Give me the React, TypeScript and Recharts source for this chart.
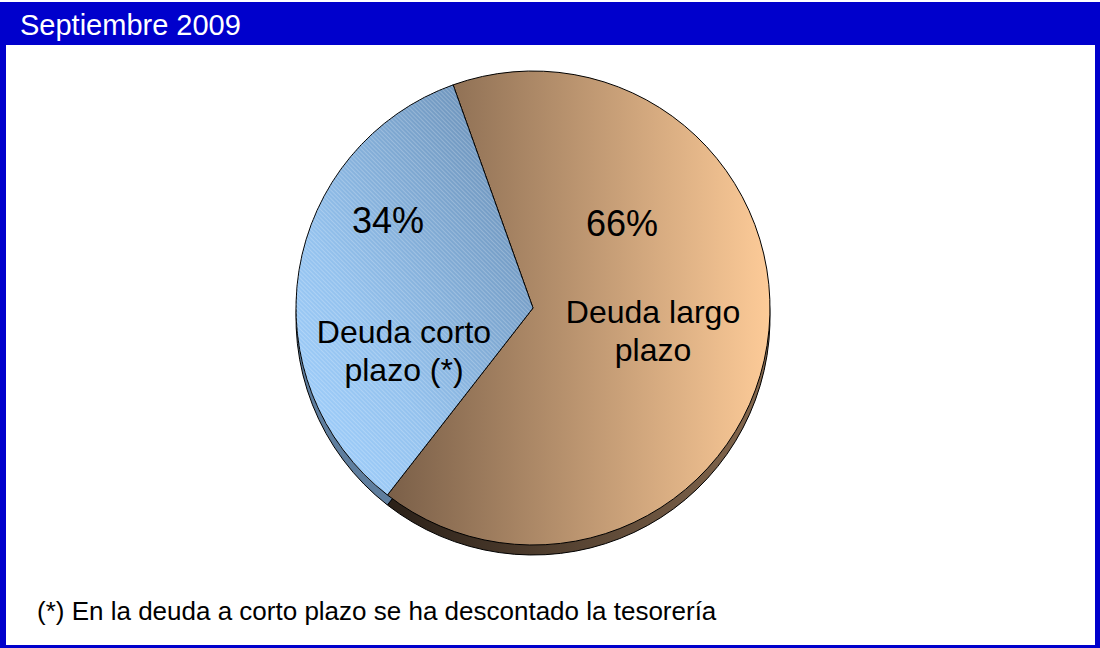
import React from "react";
import { PieChart, Pie, Cell } from "recharts";

// data
const categories = ["Deuda largo plazo", "Deuda corto plazo (*)"];
const shares = [66, 34];
const nameLines = [["Deuda largo", "plazo"], ["Deuda corto", "plazo (*)"]];

const title = "Septiembre 2009";
const footnote = "(*) En la deuda a corto plazo se ha descontado la tesorería";

const data = categories.map((name, i) => ({ name, value: shares[i] }));

// layout
const W = 1100;
const H = 648;
const CX = 533;
const CY = 308;
const R = 237;
const DEPTH = 10;
const START = 109.7;
const FONT = '"Liberation Sans", Arial, sans-serif';

const topFills = ["url(#largoFace)", "url(#cortoFace)"];
const sideFills = ["url(#largoSide)", "#5f7e9e"];
const stripeFills = ["none", "url(#stripes)"];

// label offsets from the pie centre (percent baseline, name first baseline)
const labelPos = [
  { pct: [89, -72], name: [120, 15] },
  { pct: [-145, -75], name: [-129, 35] },
];

function renderLabel(props: any) {
  const { cx, cy, percent, index } = props;
  const pos = labelPos[index];
  const lines = nameLines[index];
  return (
    <g key={`lbl-${index}`}>
      <text x={cx + pos.pct[0]} y={cy + pos.pct[1]} textAnchor="middle"
        fontSize={36} fontFamily={FONT} fill="#000">
        {`${Math.round(percent * 100)}%`}
      </text>
      {lines.map((l, j) => (
        <text key={j} x={cx + pos.name[0]} y={cy + pos.name[1] + j * 38} textAnchor="middle"
          fontSize={32} fontFamily={FONT} fill="#000">
          {l}
        </text>
      ))}
    </g>
  );
}

export default function App() {
  return (
    <div style={{ position: "absolute", left: 0, top: 0, width: W, height: H, background: "#fff", fontFamily: FONT }}>
      <div style={{ position: "absolute", left: 0, top: 2, width: 1100, height: 646, background: "#0000cc" }} />
      <div style={{ position: "absolute", left: 6, top: 45, width: 1089, height: 600, background: "#fff" }} />
      <div style={{ position: "absolute", left: 20, top: 11, fontSize: 29, lineHeight: 1, color: "#fff", whiteSpace: "nowrap" }}>
        {title}
      </div>
      <div style={{ position: "absolute", left: 37, top: 598, fontSize: 26, lineHeight: 1, color: "#000", whiteSpace: "nowrap" }}>
        {footnote}
      </div>

      <div style={{ position: "absolute", left: 0, top: 0 }}>
        <PieChart width={W} height={H} margin={{ top: 0, right: 0, bottom: 0, left: 0 }}>
          <defs>
            <linearGradient id="largoFace" x1="0" y1="0" x2="1" y2="0">
              <stop offset="0%" stopColor="#7a5f48" />
              <stop offset="100%" stopColor="#fdcb98" />
            </linearGradient>
            <linearGradient id="largoSide" x1="0" y1="0" x2="1" y2="0">
              <stop offset="0%" stopColor="#2a2018" />
              <stop offset="100%" stopColor="#86694f" />
            </linearGradient>
            <linearGradient id="cortoFace" x1="0" y1="1" x2="1" y2="0">
              <stop offset="0%" stopColor="#a3d2ff" />
              <stop offset="35%" stopColor="#94c2ee" />
              <stop offset="100%" stopColor="#6488ae" />
            </linearGradient>
            <pattern id="stripes" patternUnits="userSpaceOnUse" width="3" height="3" patternTransform="rotate(-45)">
              <line x1="0.5" y1="0" x2="0.5" y2="3" stroke="#ffffff" strokeOpacity={0.22} strokeWidth={1} />
            </pattern>
          </defs>

          <Pie data={data} dataKey="value" nameKey="name" cx={CX} cy={CY + DEPTH} outerRadius={R}
            startAngle={START} endAngle={START - 360} label={false} labelLine={false}
            isAnimationActive={false}>
            {data.map((d, i) => (
              <Cell key={d.name} fill={sideFills[i]} stroke="#000" strokeWidth={1} />
            ))}
          </Pie>

          <Pie data={data} dataKey="value" nameKey="name" cx={CX} cy={CY} outerRadius={R}
            startAngle={START} endAngle={START - 360} label={false} labelLine={false}
            isAnimationActive={false}>
            {data.map((d, i) => (
              <Cell key={d.name} fill={topFills[i]} stroke="#000" strokeWidth={1} />
            ))}
          </Pie>

          <Pie data={data} dataKey="value" nameKey="name" cx={CX} cy={CY} outerRadius={R}
            startAngle={START} endAngle={START - 360} label={renderLabel} labelLine={false}
            isAnimationActive={false}>
            {data.map((d, i) => (
              <Cell key={d.name} fill={stripeFills[i]} stroke="none" />
            ))}
          </Pie>
        </PieChart>
      </div>
    </div>
  );
}
